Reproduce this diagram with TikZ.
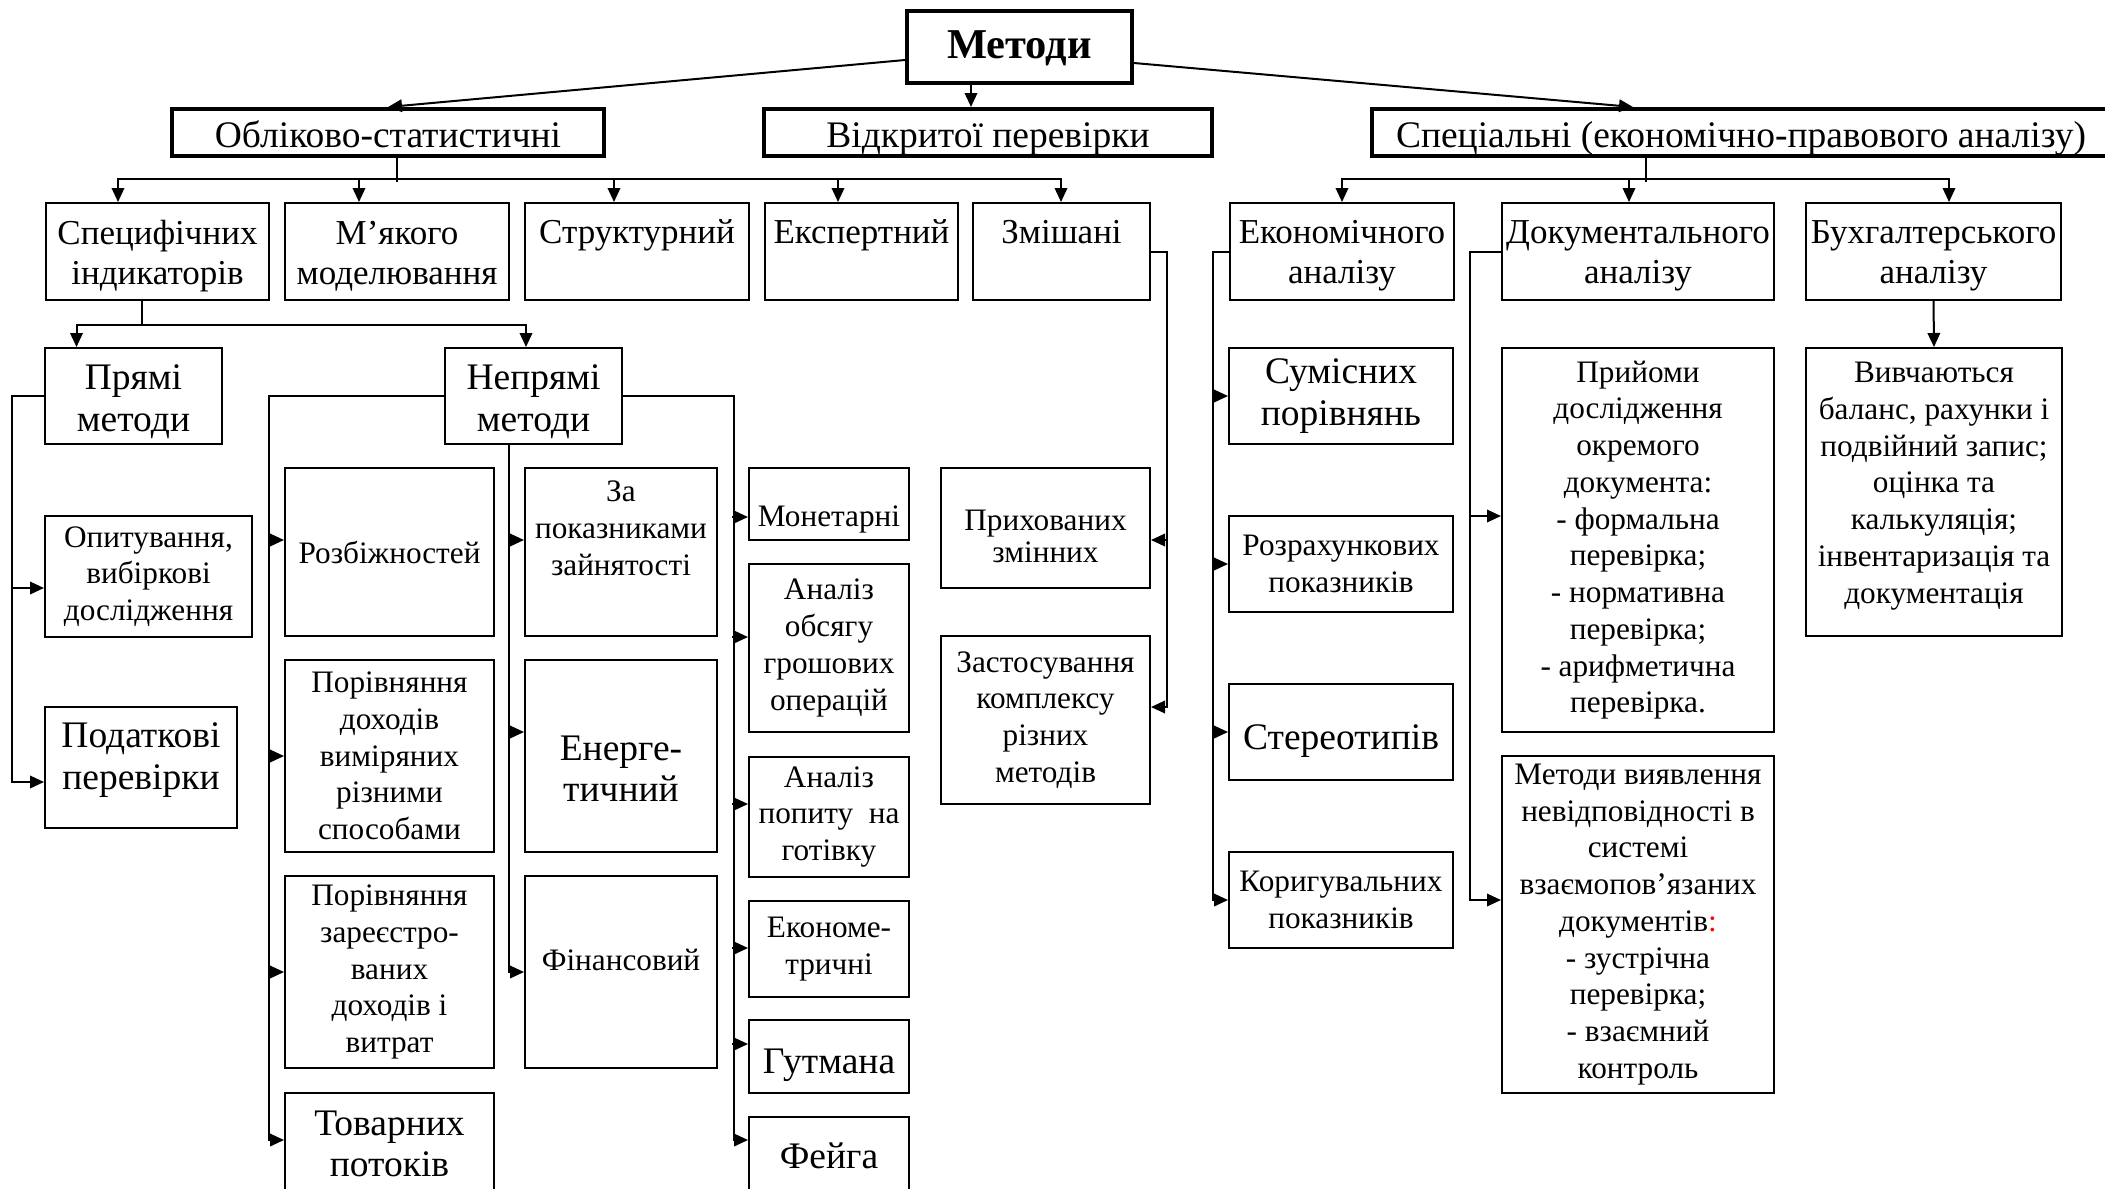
\documentclass[tikz,border=0pt]{standalone}
\usepackage{fontspec}
\setmainfont{Liberation Serif}
\usetikzlibrary{arrows.meta,calc}
\newcommand\bxnode[7][]{%
  \pgfmathsetmacro\bxW{(#5-#3)*0.4}%
  \pgfmathsetmacro\bxH{(#6-#4)*0.4}%
  \pgfmathsetmacro\bxX{(#3+#5)/2}%
  \pgfmathsetmacro\bxY{(#4+#6)/2}%
  \node[box,#1,minimum width=\bxW pt,minimum height=\bxH pt] (#2) at (\bxX,\bxY) {#7};}
\newcommand\uprule[1]{\rule{0pt}{#1}}
\newcommand\dnrule[1]{\rule[-#1]{0pt}{0pt}}
\begin{document}
\begin{tikzpicture}[x=0.4pt,y=-0.4pt,
  box/.style={draw, line width=0.8pt, align=center, inner xsep=1pt, inner ysep=1pt},
  sm/.style={font=\fontsize{12.5}{14.7}\selectfont},
  lg/.style={font=\fontsize{15}{16.7}\selectfont},
  md/.style={font=\fontsize{14}{16}\selectfont},
  hd/.style={line width=1.6pt, font=\fontsize{15}{17}\selectfont, text height=13pt, text depth=1.4pt},
  arr/.style={line width=0.8pt, -{Triangle[length=5.6pt,width=5pt]}},
  ln/.style={line width=0.8pt}]
\useasboundingbox (0,0) rectangle (2105,1188);
\clip (0,0) rectangle (2105,1188);

% headers
\bxnode[hd,font=\fontsize{17}{20}\selectfont\bfseries,text height=12pt,text depth=3.2pt]{metody}{907}{11}{1132}{83}{Методи}
\bxnode[hd]{oblik}{172}{109}{604}{156}{Обліково-статистичні}
\bxnode[hd]{vidkr}{764}{109}{1212}{156}{Відкритої перевірки}
\bxnode[hd]{spec}{1372}{109}{2110}{156}{Спеціальні (економічно-правового аналізу)}

% level 2
\bxnode[md]{spc}{46}{203}{269}{300}{\uprule{13pt}Специфічних\\індикаторів}
\bxnode[md]{myak}{285}{203}{509}{300}{\uprule{13pt}М’якого\\моделювання}
\bxnode[md]{strk}{525}{203}{749}{300}{\uprule{13pt}Структурний\\\dnrule{3.5pt}}
\bxnode[md]{expr}{765}{203}{958}{300}{\uprule{13pt}Експертний\\\dnrule{3.5pt}}
\bxnode[md]{zmi}{973}{203}{1150}{300}{\uprule{13pt}Змішані\\\dnrule{3.5pt}}
\bxnode[md]{eco}{1230}{203}{1454}{300}{\uprule{13pt}Економічного\\аналізу}
\bxnode[md]{doc}{1502}{203}{1774}{300}{\uprule{13pt}Документального\\аналізу}
\bxnode[md]{buh}{1806}{203}{2061}{300}{\uprule{13pt}Бухгалтерського\\аналізу}

% left part
\bxnode[lg]{pryami}{45}{348}{222}{444}{\uprule{14.5pt}Прямі\\методи}
\bxnode[lg]{nepr}{445}{348}{622}{444}{\uprule{14.5pt}Непрямі\\методи}
\bxnode[sm]{opyt}{45}{516}{252}{637}{Опитування,\\вибіркові\\дослідження}
\bxnode[lg]{podat}{45}{707}{237}{828}{Податкові\\перевірки\dnrule{9pt}}
\bxnode[sm]{rozb}{285}{468}{494}{636}{Розбіжностей}
\bxnode[sm]{porv1}{285}{660}{494}{852}{Порівняння\\доходів\\виміряних\\різними\\способами}
\bxnode[sm]{porv2}{285}{876}{494}{1068}{Порівняння\\зареєстро-\\ваних\\доходів і\\витрат}
\bxnode[lg]{tovar}{285}{1093}{494}{1195}{Товарних\\потоків}
\bxnode[sm]{zapok}{525}{468}{717}{636}{За\\показниками\\зайнятості\\\strut}
\bxnode[lg]{energ}{525}{660}{717}{852}{\uprule{20pt}Енерге-\\тичний}
\bxnode[sm]{fin}{525}{876}{717}{1068}{Фінансовий\dnrule{9.6pt}}
\bxnode[sm]{mon}{749}{468}{909}{540}{\uprule{20.5pt}Монетарні}
\bxnode[sm]{obs}{749}{564}{909}{732}{Аналіз\\обсягу\\грошових\\операцій}
\bxnode[sm]{popyt}{749}{757}{909}{877}{Аналіз\\попиту\ \ на\\готівку}
\bxnode[sm]{ekonom}{749}{901}{909}{997}{Економе-\\тричні}
\bxnode[lg]{gutm}{749}{1020}{909}{1093}{\uprule{16.5pt}Гутмана}
\bxnode[lg]{feig}{749}{1117}{909}{1195}{Фейга}
\bxnode[sm,font=\fontsize{12.5}{12.5}\selectfont]{prih}{941}{468}{1150}{588}{\uprule{15pt}Прихованих\\змінних}
\bxnode[sm]{zast}{941}{636}{1150}{804}{Застосування\\комплексу\\різних\\методів}

% right part
\bxnode[lg]{sumis}{1229}{348}{1453}{444}{Сумісних\\порівнянь}
\bxnode[sm]{rozr}{1229}{516}{1453}{612}{Розрахункових\\показників}
\bxnode[lg]{stereo}{1229}{684}{1453}{780}{\uprule{17.5pt}Стереотипів}
\bxnode[sm]{koryg}{1229}{852}{1453}{948}{Коригувальних\\показників}
\bxnode[sm]{pryi}{1502}{348}{1774}{732}{Прийоми\\дослідження\\окремого\\документа:\\- формальна\\перевірка;\\- нормативна\\перевірка;\\- арифметична\\перевірка.}
\bxnode[sm]{metv}{1502}{756}{1774}{1093}{Методи виявлення\\невідповідності в\\системі\\взаємопов’язаних\\документів{\color{red}:}\\- зустрічна\\перевірка;\\- взаємний\\контроль}
\bxnode[sm]{vyvch}{1806}{348}{2062}{636}{Вивчаються\\баланс, рахунки і\\подвійний запис;\\оцінка та\\калькуляція;\\інвентаризація та\\документація\dnrule{7.5pt}}

% top connectors
\draw[arr] ($(metody.west)+(0,13)$) -- (oblik.north);
\draw[arr] ($(metody.south west)+(66,0)$) -- ($(vidkr.north west)+(209,0)$);
\draw[arr] ($(metody.east)+(0,16)$) -- ($(spec.north west)+(263,0)$);

% Obliko-statystychni bus
\draw[ln] ($(oblik.south)+(9,0)$) -- ++(0,24);
\draw[arr] ($(myak.north west)+(75,-23)$) -| ($(spc.north west)+(73,0)$);
\draw[arr] ($(myak.north west)+(75,-23)$) -| ($(zmi.north west)+(89,0)$);
\draw[arr] ($(myak.north west)+(75,-23)$) -- ($(myak.north west)+(75,0)$);
\draw[arr] ($(strk.north west)+(90,-23)$) -- ($(strk.north west)+(90,0)$);
\draw[arr] ($(expr.north west)+(74,-23)$) -- ($(expr.north west)+(74,0)$);

% Special bus
\draw[ln] ($(spec.south)+(-95,0)$) -- ++(0,24);
\draw[arr] ($(doc.north west)+(128,-23)$) -| (eco.north);
\draw[arr] ($(doc.north west)+(128,-23)$) -| ($(buh.north west)+(144,0)$);
\draw[arr] ($(doc.north west)+(128,-23)$) -- ($(doc.north west)+(128,0)$);

% Specific indicators bus
\draw[ln] ($(spc.south)+(-16,0)$) -- ++(0,24);
\draw[arr] ($(spc.south)+(-16,24)$) -| ($(pryami.north)+(-57,0)$);
\draw[arr] ($(spc.south)+(-16,24)$) -| ($(nepr.north)+(-7.5,0)$);

% Direct methods
\draw[arr] (pryami.west) -- ++(-32,0) |- ($(podat.west)+(0,14.5)$);
\draw[arr] ($(opyt.west)+(-32,11.5)$) -- ($(opyt.west)+(0,11.5)$);

% Indirect methods: left column
\draw[arr] (nepr.west) -- ++(-175.5,0) |- ($(tovar.west)+(0,-4)$);
\draw[arr] ($(rozb.west)+(-15.5,-12)$) -- ($(rozb.west)+(0,-12)$);
\draw[arr] ($(porv1.west)+(-15.5,0)$) -- (porv1.west);
\draw[arr] ($(porv2.west)+(-15.5,0)$) -- (porv2.west);

% Indirect methods: middle column
\draw[arr] ($(nepr.south)+(-24.5,0)$) |- (fin.west);
\draw[arr] ($(zapok.west)+(-16,-12)$) -- ($(zapok.west)+(0,-12)$);
\draw[arr] ($(energ.west)+(-16,-24)$) -- ($(energ.west)+(0,-24)$);

% Indirect methods: right column
\draw[arr] (nepr.east) -- ++(111,0) |- ($(feig.west)+(0,-16)$);
\draw[arr] ($(mon.west)+(-16,13)$) -- ($(mon.west)+(0,13)$);
\draw[arr] ($(obs.west)+(-16,-11)$) -- ($(obs.west)+(0,-11)$);
\draw[arr] ($(popyt.west)+(-16,-13)$) -- ($(popyt.west)+(0,-13)$);
\draw[arr] ($(ekonom.west)+(-16,-1)$) -- ($(ekonom.west)+(0,-1)$);
\draw[arr] ($(gutm.west)+(-16,-12.5)$) -- ($(gutm.west)+(0,-12.5)$);

% Mixed
\draw[arr] (zmi.east) -- ++(16,0) |- ($(zast.east)+(0,-13)$);
\draw[arr] ($(prih.east)+(16,12)$) -- ($(prih.east)+(0,12)$);

% Economic analysis
\draw[arr] (eco.west) -- ++(-16,0) |- (koryg.west);
\draw[arr] ($(sumis.west)+(-15,0)$) -- (sumis.west);
\draw[arr] ($(rozr.west)+(-15,0)$) -- (rozr.west);
\draw[arr] ($(stereo.west)+(-15,0)$) -- (stereo.west);

% Documentary analysis
\draw[arr] (doc.west) -- ++(-31,0) |- ($(metv.west)+(0,-24.5)$);
\draw[arr] ($(pryi.west)+(-31,-24)$) -- ($(pryi.west)+(0,-24)$);

% Accounting analysis
\draw[arr] (buh.south) -- (vyvch.north);
\end{tikzpicture}
\end{document}
